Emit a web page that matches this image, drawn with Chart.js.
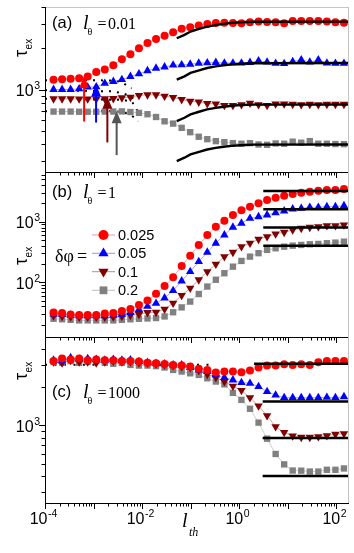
<!DOCTYPE html>
<html><head><meta charset="utf-8">
<script src="https://cdn.jsdelivr.net/npm/chart.js@4/dist/chart.umd.min.js"></script>
<style>
html,body{margin:0;padding:0;background:#fff;}
#wrap{position:relative;width:354px;height:553px;overflow:hidden;background:#fff;}
canvas{position:absolute;left:0;}
</style></head><body>
<div id="wrap">
<canvas id="ca" style="top:0px" width="354" height="180"></canvas>
<canvas id="cb" style="top:165px" width="354" height="180"></canvas>
<canvas id="cc" style="top:330px" width="354" height="223"></canvas>
</div>
<script>
// ---------- data ----------
const xVals = [1.5e-4,2.25e-4,3.375e-4,5.06e-4,7.59e-4,1.139e-3,1.709e-3,2.563e-3,3.844e-3,5.767e-3,
  8.65e-3,0.01297,0.01946,0.02919,0.04379,0.06568,0.09852,0.1478,0.2217,0.3325,
  0.4988,0.7482,1.122,1.683,2.525,3.788,5.682,8.523,12.78,19.18,
  28.77,43.15,64.72,97.08,145.6];
const seriesLabels = ['0.025','0.05','0.1','0.2'];

// panel (a)  l_theta = 0.01
const redA  = [1180,1190,1200,1210,1245,1340,1400,1505,1665,1810,2000,2180,2340,2470,2620,2770,2850,2930,3010,3060,3075,3060,3045,3095,3130,3110,3095,3045,3165,3165,3165,3165,3130,3095,3075];
const blueA = [1000,1000,1000,1010,1040,1045,1110,1145,1180,1245,1300,1370,1430,1460,1505,1515,1530,1555,1565,1575,1560,1560,1560,1575,1620,1585,1550,1545,1600,1645,1585,1645,1560,1550,1550];
const darkA = [855,855,855,853,853,853,855,860,870,880,905,915,915,895,875,845,820,810,790,785,765,765,775,795,775,765,785,785,780,775,780,775,780,780,780];
const grayA = [690,690,690,688,688,688,690,690,692,685,675,660,630,586,564,525,488,452,434,420,413,406,402,406,397,395,404,402,416,409,420,402,402,400,399];
// fitted curves (a)
const fitX     = [0.052,0.075,0.1,0.15,0.22,0.33,0.48,0.7,1.05,2,185];
const fitRedA  = [2366,2504,2648,2770,2880,2958,3011,3061,3092,3120,3130];
const fitBlueA = [1179,1248,1320,1381,1435,1474,1501,1526,1541,1555,1560];
const fitDarkA = [588,622,658,688,716,735,748,761,769,776,778];
const fitGrayA = [300,318,336,351,365,375,382,388,392,396,397];
// short-time dotted curves (a)
const dot1X = [1e-4,2.4e-3,3.8e-3,5.2e-3,6.1e-3], dot1Y = [1170,1165,1134,1053,1018];
const dot2X = [1e-4,2.4e-3,3.8e-3,6.1e-3,7.2e-3], dot2Y = [990,969,943,891,820];
const dot3X = [1e-4,3.8e-3,6.1e-3,7.2e-3,8.4e-3], dot3Y = [855,840,820,754,675];
const dot4X = [1e-4,3.0e-3,5.2e-3,7.2e-3,8.4e-3], dot4Y = [693,693,667,621,586];
// arrows (a)
const arrowX    = [6.4e-4,1.13e-3,1.93e-3,3.0e-3];
const arrowFrom = [584,574,411,332];
const arrowTo   = [1255,1084,886,693];

// panel (b)  l_theta = 1
const redB  = [31.7,31.0,29.4,28.7,28.7,28.7,30.5,31.0,33.5,36.1,42.0,50.0,64.4,87,121,186,275,413,604,827,1040,1290,1540,1770,2010,2280,2490,2680,2860,3000,3120,3240,3330,3330,3460];
const blueB = [30,29.5,28.5,28,28,28,28,28.5,29.5,31.7,35.5,40,45,55,73,105,150,219,313,441,604,809,941,1137,1208,1289,1407,1500,1620,1662,1726,1726,1767,1767,1835];
const darkB = [28,27.5,27,26.5,26.5,26.5,26.5,27,27.5,28.5,29.5,31.7,32,36.1,45.3,60.6,80,110,150,199,265,313,387,441,513,566,627,669,730,778,809,827,859,859,882];
const grayB = [25,24.5,24,23.5,23.5,23.5,23.5,23.5,24,24.5,25,25.3,25.7,27.3,32,38.5,48,64,85,110,141,181,225,265,302,342,364,387,402,413,424,429,441,451,468];
const plateauB = [3200,1600,800,400];
const plateauBX = [3.16,185];

// panel (c)  l_theta = 1000
const redC  = [3200,3350,3300,3350,3250,3300,3250,3250,3200,3210,3170,3110,3075,3040,2985,2950,2900,2780,2725,2600,2645,2645,2620,2700,2850,2950,2950,3020,2985,3020,2985,3130,3210,3210,3210];
const blueC = [3250,3200,3400,3300,3350,3300,3250,3300,3250,3270,3170,3120,3075,3040,2985,2985,2850,2725,2645,2490,2375,2275,2170,2140,2015,1840,1730,1650,1650,1650,1650,1650,1660,1650,1680];
const darkC = [3150,3100,3250,3150,3150,3100,3150,3200,3150,3150,3100,3080,3040,3000,2950,2900,2850,2700,2520,2375,2210,2030,1880,1650,1420,1190,975,880,825,805,805,815,830,850,860];
const grayC = [3150,3100,3200,3100,3150,3200,3100,3050,3100,2985,2950,2950,2920,2850,2725,2650,2565,2490,2345,2210,2100,1800,1585,1350,1050,785,595,493,441,440,433,433,447,447,458];
const plateauC = [3050,1540,795,400];
const plateauCStart = [2.04,3.07,3.07,3.07];
const dotCX = [1e-4,0.32], dotCY = [3000,3000];

const xTickExps = [-4,-2,0,2];

// ---------- styles ----------
const COLORS = ['#ff0000','#0000ff','#800000','#808080'];
const LINECOL = ['rgba(255,110,110,0.75)','rgba(110,110,255,0.75)','rgba(150,60,60,0.6)','rgba(175,175,175,0.8)'];
const PSTYLE = ['circle','triangle','triangle','rect'];
const PROT = [0,0,180,0];
const PRAD = [4.0,4.9,4.9,4.5];
const ARROWCOL = ['#ff0000','#0000ff','#800000','#555555'];
const SANS = '"Liberation Sans", Arial, sans-serif';
const SERIF = '"Liberation Serif", "Times New Roman", serif';

function pts(xs, ys){ return xs.map((x,i)=>({x:x, y:ys[i]})); }
function seriesDs(vals, k){
  return {data:pts(xVals, vals), borderColor:LINECOL[k], borderWidth:0.8,
    pointStyle:PSTYLE[k], pointRotation:PROT[k], pointRadius:PRAD[k],
    pointBackgroundColor:COLORS[k], pointBorderColor:COLORS[k], pointBorderWidth:0,
    order:2, clip:false};
}
function blackDs(xs, ys){
  return {data:pts(xs, ys), borderColor:'#000', borderWidth:2.4, pointRadius:0, order:1, clip:false};
}
function dotDs(xs, ys, dash){
  return {data:pts(xs, ys), borderColor:'#000', borderWidth:2, borderDash:dash, borderCapStyle:'butt', pointRadius:0, order:5, clip:false};
}

function drawSupLabel(ctx, exp, x, y, align){
  ctx.font = '16px ' + SANS;
  const wb = ctx.measureText('10').width;
  ctx.font = '10.5px ' + SANS;
  const we = ctx.measureText(exp).width;
  let x0 = align === 'right' ? x - wb - we - 0.5 : x - (wb + we + 0.5)/2;
  ctx.textAlign = 'left'; ctx.textBaseline = 'alphabetic';
  ctx.font = '16px ' + SANS;
  ctx.fillText('10', x0, y);
  ctx.font = '10.5px ' + SANS;
  ctx.fillText(exp, x0 + wb + 0.5, y - 7);
}

function drawDecor(chart, cfg){
  const ctx = chart.ctx, a = chart.chartArea, xs = chart.scales.x, ys = chart.scales.y;
  ctx.save();
  ctx.lineWidth = 1;
  ctx.strokeStyle = '#c4c4c4';
  ctx.beginPath();
  if (cfg.topLine){ ctx.moveTo(a.left, a.top+0.5); ctx.lineTo(a.right, a.top+0.5); }
  ctx.moveTo(a.right-0.5, a.top); ctx.lineTo(a.right-0.5, a.bottom);
  ctx.stroke();
  ctx.strokeStyle = '#000';
  ctx.beginPath();
  ctx.moveTo(a.left+0.5, a.top); ctx.lineTo(a.left+0.5, a.bottom+0.5); ctx.lineTo(a.right, a.bottom+0.5);
  ctx.stroke();
  ctx.beginPath();
  for (let d=-4; d<=2; d++){
    for (let m=1; m<=9; m++){
      const v = m*Math.pow(10,d);
      if (v < xs.min*0.999 || v > xs.max*1.001) continue;
      const px = Math.round(xs.getPixelForValue(v)) + 0.5;
      const len = m===1 ? 6 : 3.5;
      ctx.moveTo(px, a.bottom); ctx.lineTo(px, a.bottom+len);
    }
  }
  const d0 = Math.floor(Math.log10(ys.min)), d1 = Math.ceil(Math.log10(ys.max));
  for (let d=d0; d<=d1; d++){
    for (let m=1; m<=9; m++){
      const v = m*Math.pow(10,d);
      if (v < ys.min*0.999 || v > ys.max*1.001) continue;
      const py = Math.round(ys.getPixelForValue(v)) + 0.5;
      const len = m===1 ? 6 : 3.5;
      ctx.moveTo(a.left, py); ctx.lineTo(a.left-len, py);
    }
  }
  ctx.stroke();
  ctx.fillStyle = '#000';
  cfg.yLabels.forEach(e=>{
    const py = ys.getPixelForValue(Math.pow(10,e));
    drawSupLabel(ctx, String(e), a.left-5, py+6.5, 'right');
  });
  if (cfg.xLabels){
    xTickExps.forEach(e=>{
      const px = xs.getPixelForValue(Math.pow(10,e));
      drawSupLabel(ctx, String(e), px-1.5, a.bottom+20.5, 'center');
    });
    ctx.textAlign='left'; ctx.textBaseline='alphabetic';
    ctx.font = 'italic 20px ' + SERIF;
    ctx.fillText('l', 182, a.bottom+24);
    ctx.font = 'italic 12px ' + SERIF;
    ctx.fillText('th', 189, a.bottom+33);
  }
  ctx.save();
  ctx.translate(27, cfg.tauY);
  ctx.rotate(-Math.PI/2);
  ctx.textAlign='left'; ctx.textBaseline='alphabetic';
  ctx.font = '18px ' + SANS;
  ctx.fillText('\u03c4', 0, 0);
  const wt = ctx.measureText('\u03c4').width;
  ctx.font = '10px ' + SANS;
  ctx.fillText('ex', wt+0.5, 5);
  ctx.restore();
  ctx.textAlign='left'; ctx.textBaseline='alphabetic';
  ctx.font = '16.5px ' + SANS;
  ctx.fillText(cfg.tag, 52, a.top + cfg.tagDy);
  ctx.font = 'italic 20px ' + SERIF;
  ctx.fillText('l', 83, a.top + cfg.tagDy + 1);
  ctx.font = '10px ' + SERIF;
  ctx.fillText('\u03b8', 87.5, a.top + cfg.tagDy + 7);
  ctx.font = '16px ' + SERIF;
  ctx.fillText('=', 97.5, a.top + cfg.tagDy + 1);
  ctx.fillText(cfg.val, 108, a.top + cfg.tagDy + 1);
  ctx.restore();
}

function drawArrows(chart){
  const ctx = chart.ctx, xs = chart.scales.x, ys = chart.scales.y;
  ctx.save();
  arrowX.forEach((xv,k)=>{
    const px = xs.getPixelForValue(xv);
    const yb = ys.getPixelForValue(arrowFrom[k]);
    const yt = ys.getPixelForValue(arrowTo[k]);
    ctx.strokeStyle = ARROWCOL[k]; ctx.fillStyle = ARROWCOL[k];
    ctx.lineWidth = 2;
    ctx.beginPath(); ctx.moveTo(px, yb); ctx.lineTo(px, yt+10); ctx.stroke();
    ctx.beginPath(); ctx.moveTo(px, yt); ctx.lineTo(px-5, yt+12); ctx.lineTo(px+5, yt+12); ctx.closePath(); ctx.fill();
  });
  ctx.restore();
}

function drawLegend(chart){
  const ctx = chart.ctx;
  ctx.save();
  ctx.fillStyle = '#000';
  ctx.textAlign='left'; ctx.textBaseline='alphabetic';
  ctx.font = '18px ' + SERIF;
  ctx.fillText('\u03b4\u03c6', 55, 262-165);
  ctx.fillText('=', 77, 262-165);
  const ys0 = [235,253.3,271.7,290.3];
  const base = [240,258.3,276.7,295];
  seriesLabels.forEach((t,k)=>{
    const y = ys0[k]-165;
    ctx.strokeStyle = LINECOL[k]; ctx.lineWidth = 1;
    ctx.beginPath(); ctx.moveTo(92, y); ctx.lineTo(115, y); ctx.stroke();
    ctx.fillStyle = COLORS[k];
    Chart.helpers.drawPoint(ctx, {pointStyle:PSTYLE[k], rotation:PROT[k], radius:PRAD[k]+1, borderWidth:0}, 103.5, y);
    ctx.fillStyle = '#000';
    ctx.font = '14.5px ' + SANS;
    ctx.fillText(t, 118, base[k]-165);
  });
  ctx.restore();
}

function baseOptions(ymin, ymax, padBottom){
  return {
    responsive:false, animation:false, devicePixelRatio:1,
    layout:{padding:{left:45, right:5, top:7, bottom:padBottom}},
    plugins:{legend:{display:false}, tooltip:{enabled:false}},
    scales:{
      x:{type:'logarithmic', min:1e-4, max:185, display:false},
      y:{type:'logarithmic', min:ymin, max:ymax, display:false}
    },
    elements:{line:{tension:0}}
  };
}

new Chart(document.getElementById('ca'), {
  type:'line',
  data:{datasets:[
    blackDs(fitX, fitRedA), blackDs(fitX, fitBlueA), blackDs(fitX, fitDarkA), blackDs(fitX, fitGrayA),
    seriesDs(redA,0), seriesDs(blueA,1), seriesDs(darkA,2), seriesDs(grayA,3),
    dotDs(dot1X,dot1Y,[2,6]), dotDs(dot2X,dot2Y,[2,6]), dotDs(dot3X,dot3Y,[2,6]), dotDs(dot4X,dot4Y,[2,6])
  ]},
  options: baseOptions(250, 4000, 8),
  plugins:[{id:'decA', afterDatasetsDraw(c){ drawArrows(c); }, afterDraw(c){
    drawDecor(c, {topLine:true, yLabels:[3], tauY:57, tag:'(a)', val:'0.01', tagDy:20.5});
  }}]
});

new Chart(document.getElementById('cb'), {
  type:'line',
  data:{datasets:[
    ...plateauB.map(v=>blackDs(plateauBX, [v,v])),
    seriesDs(redB,0), seriesDs(blueB,1), seriesDs(darkB,2), seriesDs(grayB,3)
  ]},
  options: baseOptions(12.5, 6600, 8),
  plugins:[{id:'decB', afterDraw(c){
    drawDecor(c, {topLine:false, yLabels:[3,2], tauY:265-165, tag:'(b)', val:'1', tagDy:24.5});
    drawLegend(c);
  }}]
});

new Chart(document.getElementById('cc'), {
  type:'line',
  data:{datasets:[
    ...plateauC.map((v,k)=>blackDs([plateauCStart[k],185], [v,v])),
    seriesDs(redC,0), seriesDs(blueC,1), seriesDs(darkC,2), seriesDs(grayC,3),
    dotDs(dotCX, dotCY, [2,7.5])
  ]},
  options: baseOptions(245, 4950, 50),
  plugins:[{id:'decC', afterDraw(c){
    drawDecor(c, {topLine:false, yLabels:[3], xLabels:true, tauY:380-330, tag:'(c)', val:'1000', tagDy:59.5});
  }}]
});
</script>
</body></html>
